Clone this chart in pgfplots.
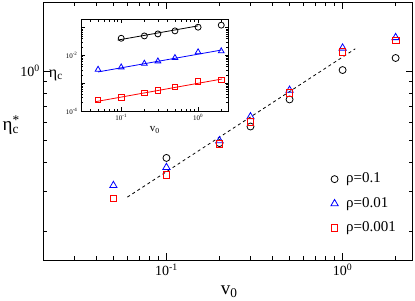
\documentclass[border=0pt]{standalone}
\usepackage{fontspec}
\setmainfont{Liberation Serif}
\usepackage{pgfplots}
\pgfplotsset{compat=1.18}
\begin{document}
\begin{tikzpicture}
\path[use as bounding box] (0pt,0pt) rectangle (415pt,300pt);
\begin{axis}[
  at={(43.3pt,40pt)}, anchor=south west,
  scale only axis, width=369.4pt, height=258pt,
  xmode=log, ymode=log,
  xmin=0.02, xmax=2.5, ymin=0.15, ymax=2,
  xtick={0.1,1}, xticklabels={10\textsuperscript{-1},10\textsuperscript{0}},
  minor xtick={0.03,0.04,0.05,0.06,0.07,0.08,0.09,0.2,0.3,0.4,0.5,0.6,0.7,0.8,0.9,2},
  ytick={1}, yticklabels={10\textsuperscript{0}},
  minor ytick={0.2,0.3,0.4,0.5,0.6,0.7,0.8,0.9,2},
  tick align=inside,
  major tick length=7pt, minor tick length=4pt,
  every tick/.style={black, line width=0.6pt},
  axis line style={line width=0.8pt},
  tick label style={font=\fontsize{14}{16}\selectfont},
  xlabel={v\textsubscript{0}},
  ylabel={η\rlap{\textsuperscript{*}}\textsubscript{c}},
  every axis x label/.style={at={(axis description cs:0.503,-0.124)},anchor=center,font=\fontsize{19}{22}\selectfont},
  every axis y label/.style={at={(axis description cs:-0.088,0.523)},anchor=center,font=\fontsize{19}{22}\selectfont},
  legend cell align=left,
  legend image code/.code={\draw[mark repeat=2,mark phase=2,#1] plot coordinates {(0pt,0pt)(6pt,0pt)(12pt,0pt)};},
  legend style={draw=none, fill=none, at={(axis description cs:0.770,0.353)}, anchor=north west,
    font=\fontsize{15}{17}\selectfont, row sep=8.5pt, column sep=6.5pt,
    nodes={text height=10pt, text depth=3pt, inner sep=1.5pt}},
]
\addplot[only marks, mark=o, mark size=3.5pt, black, line width=0.8pt]
  coordinates {(0.1,0.418)(0.2,0.485)(0.3,0.573)(0.5,0.752)(1,1.01)(2,1.14)};
\addlegendentry{ρ=0.1}
\addplot[only marks, mark=triangle, mark size=4.2pt, blue, line width=0.8pt]
  coordinates {(0.05,0.317)(0.1,0.380)(0.2,0.497)(0.3,0.632)(0.5,0.825)(1,1.26)(2,1.40)};
\addlegendentry{ρ=0.01}
\addplot[only marks, mark=square, mark size=3.3pt, red, line width=0.8pt]
  coordinates {(0.05,0.278)(0.1,0.352)(0.2,0.480)(0.3,0.601)(0.5,0.803)(1,1.213)(2,1.36)};
\addlegendentry{ρ=0.001}
\addplot[dashed, black, line width=0.8pt, forget plot]
  coordinates {(0.06,0.282)(1.18,1.25)};
\end{axis}
\begin{axis}[
  at={(81pt,189pt)}, anchor=south west,
  scale only axis, width=147.7pt, height=91.7pt,
  xmode=log, ymode=log,
  xmin=0.03, xmax=2.5, ymin=1e-4, ymax=0.2,
  axis background/.style={fill=white},
  xtick={0.1,1}, xticklabels={10\textsuperscript{-1},10\textsuperscript{0}},
  minor xtick={0.04,0.05,0.06,0.07,0.08,0.09,0.2,0.3,0.4,0.5,0.6,0.7,0.8,0.9,2},
  ytick={1e-4,1e-3,1e-2,1e-1}, yticklabels={10\textsuperscript{-4},,10\textsuperscript{-2},},
  minor ytick={2e-4,3e-4,4e-4,5e-4,6e-4,7e-4,8e-4,9e-4,2e-3,3e-3,4e-3,5e-3,6e-3,7e-3,8e-3,9e-3,2e-2,3e-2,4e-2,5e-2,6e-2,7e-2,8e-2,9e-2,2e-1},
  tick align=inside,
  major tick length=4pt, minor tick length=2.5pt,
  every tick/.style={black, line width=0.5pt},
  axis line style={line width=0.8pt},
  tick label style={font=\fontsize{7}{8}\selectfont},
  xlabel={v\textsubscript{0}},
  ylabel={η\textsubscript{c}},
  every axis x label/.style={at={(axis description cs:0.50,-0.207)},anchor=center,font=\fontsize{11}{13}\selectfont},
  every axis y label/.style={at={(axis description cs:-0.17,0.393)},anchor=center,font=\fontsize{16}{18}\selectfont},
]
\addplot[only marks, mark=o, mark size=3pt, black, line width=0.8pt]
  coordinates {(0.1,0.0415)(0.2,0.0504)(0.3,0.0595)(0.5,0.0766)(1,0.104)(2,0.123)};
\addplot[black, line width=0.8pt] coordinates {(0.09,0.0357)(1.0,0.116)};
\addplot[only marks, mark=triangle, mark size=3.3pt, blue, line width=0.8pt]
  coordinates {(0.05,0.0031)(0.1,0.00376)(0.2,0.00512)(0.3,0.0062)(0.5,0.0082)(1,0.0132)(2,0.0143)};
\addplot[blue, line width=0.8pt] coordinates {(0.05,0.00255)(2,0.0156)};
\addplot[only marks, mark=square, mark size=2.8pt, red, line width=0.8pt]
  coordinates {(0.05,0.000251)(0.1,0.000314)(0.2,0.000452)(0.3,0.000547)(0.5,0.000727)(1,0.001135)(2,0.001306)};
\addplot[red, line width=0.8pt] coordinates {(0.047,0.000218)(2.05,0.00142)};
\end{axis}
\end{tikzpicture}
\end{document}
